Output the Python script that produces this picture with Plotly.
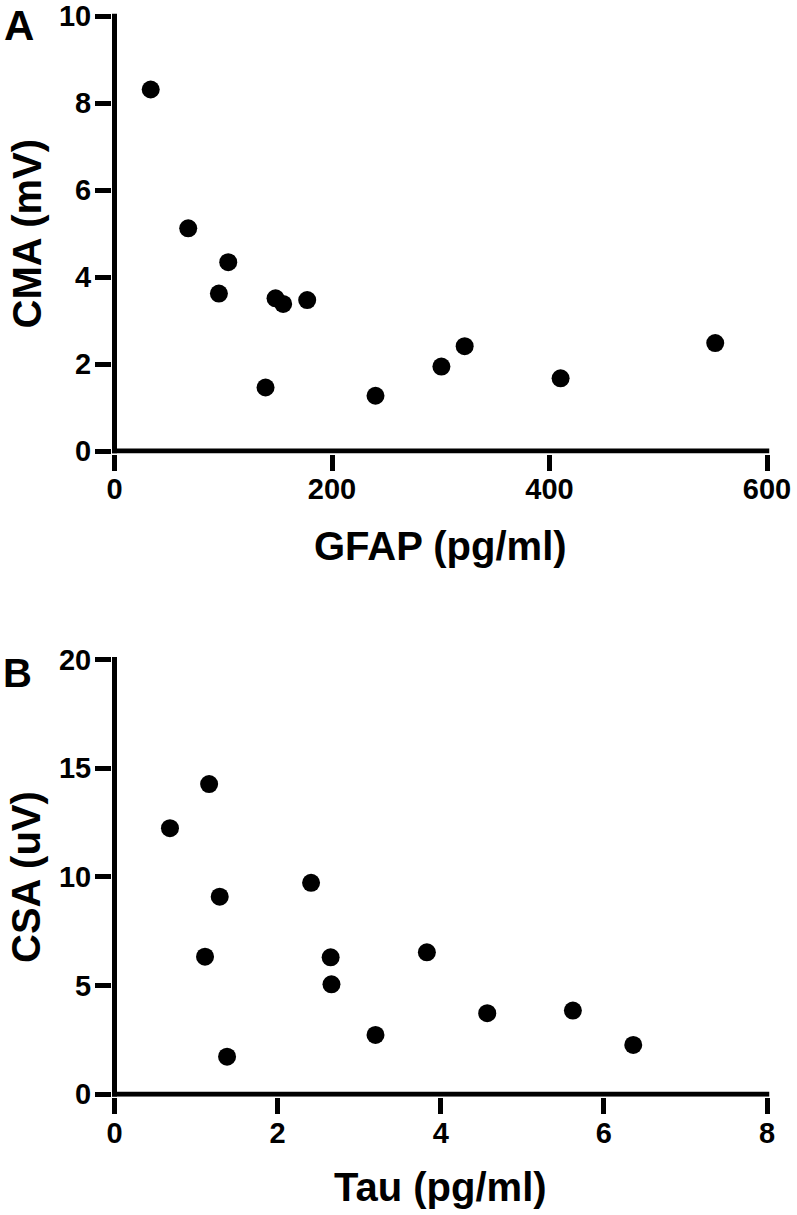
import plotly.graph_objects as go

# Panel A data
gfap = [33.3, 67.8, 104.6, 96.0, 148.1, 155.1, 177.2, 138.9, 240.0, 300.6, 322.0, 410.2, 552.4]
cma = [8.31, 5.12, 4.34, 3.62, 3.51, 3.38, 3.47, 1.46, 1.27, 1.94, 2.41, 1.67, 2.48]

# Panel B data
tau = [1.16, 0.68, 1.29, 2.41, 1.11, 2.65, 2.66, 3.20, 1.38, 3.83, 4.57, 5.62, 6.36]
csa = [14.27, 12.24, 9.09, 9.73, 6.33, 6.30, 5.06, 2.73, 1.73, 6.53, 3.73, 3.85, 2.27]

ticks_a_x = [0, 200, 400, 600]
ticks_a_y = [0, 2, 4, 6, 8, 10]
ticks_b_x = [0, 2, 4, 6, 8]
ticks_b_y = [0, 5, 10, 15, 20]

W, H = 797, 1215
FONT = "Liberation Sans, Arial, Helvetica, sans-serif"
LW = 5
half = LW / 2.0

fig = go.Figure()
fig.add_trace(go.Scatter(x=gfap, y=cma, mode="markers", xaxis="x", yaxis="y",
                         marker=dict(size=18, color="black"), showlegend=False))
fig.add_trace(go.Scatter(x=tau, y=csa, mode="markers", xaxis="x2", yaxis="y2",
                         marker=dict(size=18, color="black"), showlegend=False))

def px_x(p):
    return p / W

def px_y(p):
    return 1 - p / H

axis_common = dict(showline=False, ticks="outside", ticklen=16, tickwidth=LW,
                   tickcolor="black", showgrid=False, zeroline=False, automargin=False,
                   tickfont=dict(family=FONT, size=29, color="black", weight="bold"))

# pixel geometry: value 0 sits on the axis line centre
xA0, xA1 = 114.5, 767.0
yA0, yA1 = 451.0, 16.0
yB0, yB1 = 1094.3, 659.5

xa_max, ya_max = ticks_a_x[-1], ticks_a_y[-1]
xb_max, yb_max = ticks_b_x[-1], ticks_b_y[-1]
sx_a = (xA1 - xA0) / xa_max
sx_b = (xA1 - xA0) / xb_max
sy_a = (yA0 - yA1) / ya_max
sy_b = (yB0 - yB1) / yb_max

x_dom = [px_x(xA0 - half), px_x(xA1 + half)]
fig.update_layout(
    template="none",
    width=W, height=H, margin=dict(l=0, r=0, t=0, b=0, autoexpand=False),
    paper_bgcolor="white", plot_bgcolor="white",
    xaxis=dict(axis_common, domain=x_dom, anchor="y", ticklabelstandoff=-6,
               range=[-half / sx_a, xa_max + half / sx_a], tickvals=ticks_a_x),
    yaxis=dict(axis_common, domain=[px_y(yA0 + half), px_y(yA1 - half)], anchor="x",
               ticklabelstandoff=-2,
               range=[-half / sy_a, ya_max + half / sy_a], tickvals=ticks_a_y),
    xaxis2=dict(axis_common, domain=x_dom, anchor="y2", ticklabelstandoff=-6,
                range=[-half / sx_b, xb_max + half / sx_b], tickvals=ticks_b_x),
    yaxis2=dict(axis_common, domain=[px_y(yB0 + half), px_y(yB1 - half)], anchor="x2",
                ticklabelstandoff=-2,
                range=[-half / sy_b, yb_max + half / sy_b], tickvals=ticks_b_y),
)

# axis lines drawn through value 0
line = dict(color="black", width=LW)
shapes = []
for xr, yr, xmax, ymax, sx, sy in [("x", "y", xa_max, ya_max, sx_a, sy_a),
                                    ("x2", "y2", xb_max, yb_max, sx_b, sy_b)]:
    shapes.append(dict(type="line", xref=xr, yref=yr, x0=-half / sx, x1=xmax + half / sx,
                       y0=0, y1=0, line=line, layer="above"))
    shapes.append(dict(type="line", xref=xr, yref=yr, x0=0, x1=0,
                       y0=-half / sy, y1=ymax + half / sy, line=line, layer="above"))
fig.update_layout(shapes=shapes)

title_font = dict(family=FONT, size=40, color="black", weight="bold")

anns = [
    dict(text="GFAP (pg/ml)", x=px_x(440.8), y=px_y(546), xanchor="center", yanchor="middle", font=title_font),
    dict(text="CMA (mV)", x=px_x(26), y=px_y(233.5), xanchor="center", yanchor="middle", textangle=-90, font=title_font),
    dict(text="Tau (pg/ml)", x=px_x(440.8), y=px_y(1187), xanchor="center", yanchor="middle", font=title_font),
    dict(text="CSA (uV)", x=px_x(26), y=px_y(877), xanchor="center", yanchor="middle", textangle=-90, font=title_font),
    dict(text="A", x=px_x(2), y=1.0, xanchor="left", yanchor="top",
         font=dict(family=FONT, size=42, color="black", weight="bold")),
    dict(text="B", x=px_x(1), y=px_y(673), xanchor="left", yanchor="middle",
         font=dict(family=FONT, size=40, color="black", weight="bold")),
]
for a in anns:
    a.update(xref="paper", yref="paper", showarrow=False)
fig.update_layout(annotations=anns)

fig.write_html(
    "out.html",
    config={"displayModeBar": False},
    post_script="document.body.style.margin='0';document.body.style.padding='0';"
                "document.body.style.overflow='hidden';",
)
